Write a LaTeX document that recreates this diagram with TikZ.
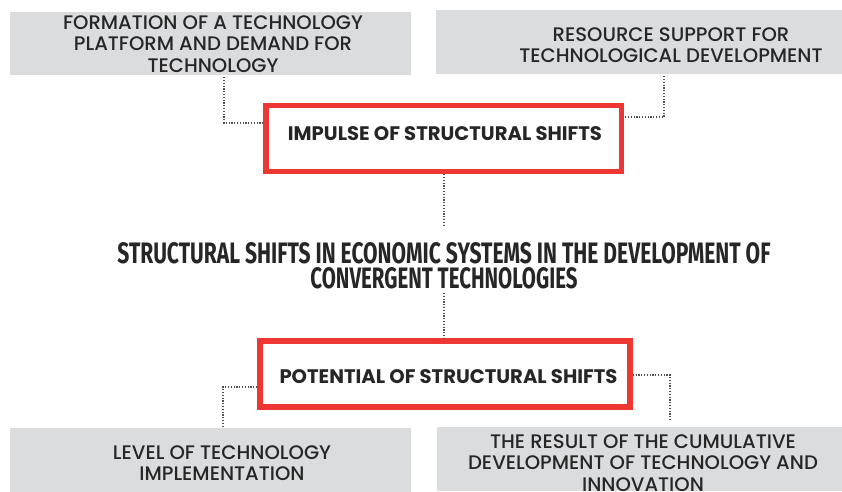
\documentclass[tikz,border=0pt]{standalone}
\usepackage{fontspec}
\usepackage{graphicx}
\setmainfont{Poppins}[UprightFont=* Medium, BoldFont=* Bold]
\newfontfamily\titlefont{Fira Sans}
\definecolor{boxgray}{HTML}{DADCDE}
\definecolor{accent}{HTML}{EE3632}
\definecolor{ink}{HTML}{262626}
\definecolor{dotgray}{HTML}{505050}
\begin{document}
\begin{tikzpicture}[x=1pt,y=-1pt,
  graybox/.style={fill=boxgray, draw=none, inner sep=0pt},
  redbox/.style={draw=accent, line width=5.5pt, fill=white, inner sep=0pt},
  graytext/.style={text=ink, align=center, inner sep=0pt,
    font=\fontsize{19.6}{21.5}\selectfont},
  redtext/.style={text=ink, align=center, inner sep=0pt,
    font=\fontsize{19.6}{21.5}\selectfont\bfseries},
  titletext/.style={text=ink, inner sep=0pt, font=\titlefont\bfseries},
  conn/.style={draw=dotgray, line width=1.2pt, dash pattern=on 1.2pt off 1.6pt}]
\useasboundingbox (0,0) rectangle (842,491);

% grey information boxes
\node[graybox, minimum width=401pt, minimum height=63pt] (tl) at (210,43.5) {};
\node[graybox, minimum width=406pt, minimum height=64pt] (tr) at (639,42) {};
\node[graybox, minimum width=401pt, minimum height=64pt] (bl) at (210,460) {};
\node[graybox, minimum width=405pt, minimum height=64pt] (br) at (639.5,459) {};

\node[graytext] (tlt) at (213,44) {FORMATION OF A TECHNOLOGY\\PLATFORM AND DEMAND FOR\\TECHNOLOGY};
\node[graytext] (trt) at (671,45) {RESOURCE SUPPORT FOR\\TECHNOLOGICAL DEVELOPMENT};
\node[graytext] (blt) at (222,463) {LEVEL OF TECHNOLOGY\\IMPLEMENTATION};
\node[graytext] (brt) at (643,463) {THE RESULT OF THE CUMULATIVE\\DEVELOPMENT OF TECHNOLOGY AND\\INNOVATION};

% red framed boxes
\node[redbox, minimum width=355.5pt, minimum height=66pt] (imp) at (443.75,138.5) {};
\node[redtext] (impt) at (445,134) {IMPULSE OF STRUCTURAL SHIFTS};
\node[redbox, minimum width=370pt, minimum height=66pt] (pot) at (445,374) {};
\node[redtext] (pott) at (448.5,377) {POTENTIAL OF STRUCTURAL SHIFTS};

% central title, two condensed lines
\node[titletext] (title) at (444,253)
  {\resizebox{653pt}{21pt}{STRUCTURAL SHIFTS IN ECONOMIC SYSTEMS IN THE DEVELOPMENT OF}};
\node[titletext] (title2) at (444,278)
  {\resizebox{267pt}{21pt}{CONVERGENT TECHNOLOGIES}};

% dotted connectors
\draw[conn, shorten <=2pt] (tl.south -| 224,0) |- (imp.west |- 0,123);
\draw[conn, shorten <=2pt] (tr.south -| 664,0) |- (imp.east |- 0,117);
\draw[conn, shorten >=17pt] (imp.south -| title.north) -- (title.north);
\draw[conn, shorten <=4pt] (title2.south) -- (pot.north -| title2.south);
\draw[conn] (pot.west |- 0,387) -| (bl.north -| 223,0);
\draw[conn, shorten >=6pt] (pot.east |- 0,375) -| (br.north -| 670,0);
\end{tikzpicture}
\end{document}
